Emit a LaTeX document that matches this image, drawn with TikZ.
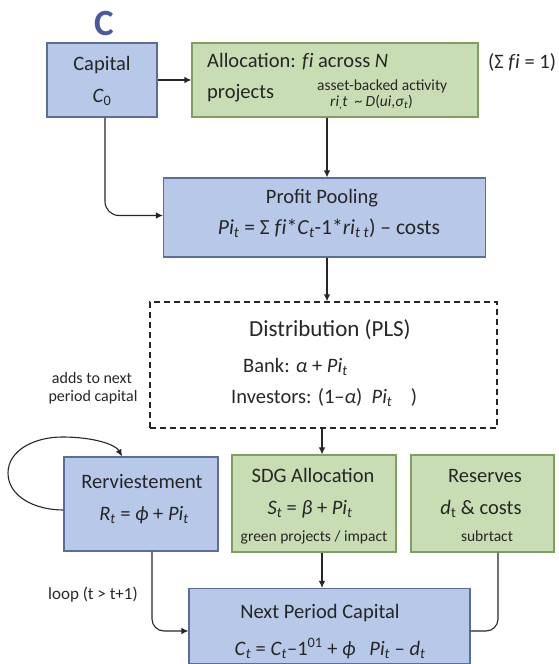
\documentclass[tikz,border=0pt]{standalone}
\usepackage{fontspec}
\setmainfont{Carlito}
\usetikzlibrary{arrows.meta}
\definecolor{bfill}{HTML}{B7C8E8}
\definecolor{bdraw}{HTML}{5A6E9E}
\definecolor{gfill}{HTML}{C8DDB4}
\definecolor{gdraw}{HTML}{7E9E62}
\definecolor{ctitle}{HTML}{4A58A0}
\definecolor{tcol}{HTML}{262626}
\newcommand\vi[1]{\textit{#1}}
\newcommand\sbs[1]{\textsubscript{#1}}
\newcommand\ffi{\textit{f\kern0.5pt i}}
\tikzset{
  bluebox/.style={draw=bdraw, fill=bfill, line width=1.1pt, inner sep=0pt},
  greenbox/.style={draw=gdraw, fill=gfill, line width=1.1pt, inner sep=0pt},
  dashbox/.style={draw=black!85, line width=1.4pt, dash pattern=on 6pt off 4pt, inner sep=0pt},
  lbl/.style={font=\fontsize{20.5}{24}\selectfont, text=tcol, inner sep=0pt},
  biglbl/.style={font=\fontsize{23}{26}\selectfont, text=tcol, inner sep=0pt},
  smalllbl/.style={font=\fontsize{15.5}{19}\selectfont, text=tcol, inner sep=0pt},
  annot/.style={font=\fontsize{16}{18.5}\selectfont, text=tcol, inner sep=0pt, align=center},
  arr/.style={-{Latex[length=7pt,width=6.5pt]}, line width=1.1pt, draw=black!85},
  plain/.style={line width=1.1pt, draw=black!85},
}
\begin{document}
\begin{tikzpicture}[x=1pt,y=-1pt]
\useasboundingbox (0,0) rectangle (559,664);

% title
\node[font=\fontsize{37}{40}\selectfont\bfseries, text=ctitle, inner sep=0pt, anchor=base] (ttl) at (104,35) {C};

% boxes
\node[bluebox, minimum width=110pt, minimum height=74pt] (cap) at (102,80) {};
\node[greenbox, minimum width=286pt, minimum height=74pt] (al) at (335,80) {};
\node[bluebox, minimum width=322pt, minimum height=79pt] (pp) at (324.5,217.5) {};
\node[dashbox, minimum width=347pt, minimum height=126pt] (dist) at (323.5,365) {};
\node[bluebox, minimum width=154pt, minimum height=94pt] (re) at (141,504) {};
\node[greenbox, minimum width=164pt, minimum height=97pt] (sdg) at (314,503.5) {};
\node[greenbox, minimum width=143pt, minimum height=97pt] (res) at (482.5,503.5) {};
\node[bluebox, minimum width=281pt, minimum height=75pt] (np) at (329.5,626) {};

% texts: capital
\node[lbl, anchor=base] (capT) at (102,70) {Capital};
\node[lbl, anchor=base] (capF) at (102,102) {\vi{C}\sbs{0}};

% allocation
\node[lbl, anchor=base west] (alT1) at (207,67) {Allocation: \ffi{} across \vi{N}};
\node[lbl, anchor=base west] (alT2) at (207,98) {projects};
\node[smalllbl, anchor=base west] (alT3) at (317,90) {asset-backed activity};
\node[smalllbl, anchor=base west] (alT4) at (330,106) {\vi{ri}\sbs{,}\vi{t}\ \ \textasciitilde\ \vi{D}(\vi{ui},\vi{σ}\sbs{\vi{t}})};
\node[lbl, anchor=base west] (sum) at (488,68) {(Σ \ffi{} = 1)};

% profit pooling
\node[lbl, anchor=base] (ppT) at (322,203) {Profit Pooling};
\node[lbl, anchor=base, font=\fontsize{21.5}{24}\selectfont] (ppF) at (329,234) {\vi{Pi}\sbs{\vi{t}} = Σ \ffi*\vi{C}\sbs{\vi{t}}-1*\vi{ri}\sbs{\vi{t t}}) – costs};

% distribution
\node[biglbl, anchor=base] (dT) at (330,336) {Distribution (PLS)};
\node[lbl, anchor=base west] (dB) at (243,372) {Bank: \vi{α} + \vi{Pi}\sbs{\vi{t}}};
\node[lbl, anchor=base west] (dI) at (231,403) {Investors: (1–\vi{α})\ \ \vi{Pi}\sbs{\vi{t}}\ \ \ \ )};

% reinvestment
\node[lbl, anchor=base] (reT) at (142,488) {Rerviestement};
\node[lbl, anchor=base] (reF) at (144,520) {\vi{R}\sbs{\vi{t}} = \vi{ϕ} + \vi{Pi}\sbs{\vi{t}}};

% SDG
\node[lbl, anchor=base] (sdgT) at (313,482) {SDG Allocation};
\node[lbl, anchor=base] (sdgF) at (310,514) {\vi{S}\sbs{\vi{t}} = \vi{β} + \vi{Pi}\sbs{\vi{t}}};
\node[smalllbl, anchor=base] (sdgS) at (314,541) {green projects / impact};

% reserves
\node[lbl, anchor=base] (resT) at (485,482) {Reserves};
\node[lbl, anchor=base] (resF) at (481,514) {\vi{d}\sbs{t} \& costs};
\node[smalllbl, anchor=base] (resS) at (487,541) {subrtact};

% next period
\node[lbl, anchor=base] (npT) at (320,618) {Next Period Capital};
\node[lbl, anchor=base] (npF) at (330,655) {\vi{C}\sbs{\vi{t}} = \vi{C}\sbs{\vi{t}}–1\textsuperscript{01} + \vi{ϕ}\ \ \ \vi{Pi}\sbs{\vi{t}} – \vi{d}\sbs{\vi{t}}};

% annotations
\node[annot, anchor=base] (add1) at (92,383) {adds to next};
\node[annot, anchor=base] (add2) at (93,401) {period capital};
\node[annot, anchor=base, font=\fontsize{17}{19}\selectfont] (loop) at (93,599) {loop (t > t+1)};

% connectors
\draw[arr] (cap.east) -- (al.west);
\draw[arr] ([xshift=-8pt]al.south) -- ([xshift=-8pt]al.south |- pp.north);
\draw[arr, rounded corners=14pt] ([xshift=3pt]cap.south) |- ([yshift=2pt]pp.west);
\draw[arr] ([xshift=2.5pt]pp.south) -- ([xshift=2.5pt]pp.south |- dist.north);
\draw[arr] ([xshift=-1.5pt]dist.south) -- ([xshift=-1.5pt]dist.south |- sdg.north);
\draw[arr] ([xshift=-1.5pt]dist.south |- sdg.south) -- ([xshift=-1.5pt]dist.south |- np.north);
\draw[arr, rounded corners=12pt] ([xshift=11pt]re.south) |- ([yshift=-5pt]np.west);
\draw[plain, rounded corners=12pt] ([xshift=15.5pt]res.south) |- ([yshift=-5pt]np.east);
\coordinate (lpl) at (8,473);
\coordinate (lpt) at (62,437);
\draw[arr] ([yshift=-6pt]re.west) .. controls (34,510) and (8,496) .. (lpl)
  .. controls (8,450) and (35,437) .. (lpt)
  .. controls (95,437) and (116,445) .. ([xshift=-19pt]re.north);
\end{tikzpicture}
\end{document}
